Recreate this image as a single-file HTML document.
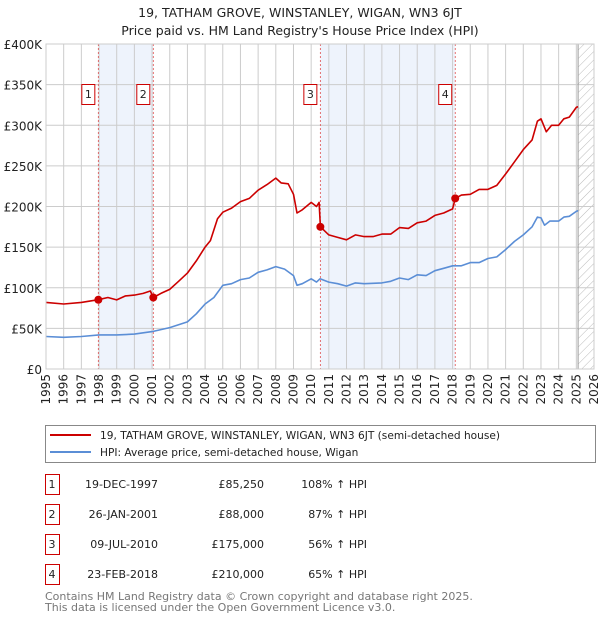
<!DOCTYPE html>
<html><head><meta charset="utf-8"><style>
body{margin:0;background:#fff;font-family:"Liberation Sans","DejaVu Sans",sans-serif;}
svg text{font-family:"DejaVu Sans","Liberation Sans",sans-serif;}
</style></head><body>
<svg id="chart" width="600" height="620" xmlns="http://www.w3.org/2000/svg">
<text x="300" y="17" font-size="12.5" text-anchor="middle" fill="#222">19, TATHAM GROVE, WINSTANLEY, WIGAN, WN3 6JT</text>
<text x="300" y="35" font-size="12.5" text-anchor="middle" fill="#222">Price paid vs. HM Land Registry's House Price Index (HPI)</text>
<g id="plot"></g>
<rect x="45.5" y="425.5" width="550" height="37" fill="#fff" stroke="#888"/>
<line x1="50" y1="435" x2="91" y2="435" stroke="#cc0000" stroke-width="2"/>
<text x="100" y="439" font-size="10.6" fill="#222">19, TATHAM GROVE, WINSTANLEY, WIGAN, WN3 6JT (semi-detached house)</text>
<line x1="50" y1="452" x2="91" y2="452" stroke="#5b8ed6" stroke-width="2"/>
<text x="100" y="456" font-size="10.6" fill="#222">HPI: Average price, semi-detached house, Wigan</text>
<g id="table"></g>
<text x="45" y="600" font-size="11" fill="#777">Contains HM Land Registry data © Crown copyright and database right 2025.</text>
<text x="45" y="611" font-size="11" fill="#777">This data is licensed under the Open Government Licence v3.0.</text>
</svg>
<script>
const redYears=[1995,1996,1997,1997.96,1998.5,1999,1999.5,2000,2000.5,2000.9,2001.07,2001.5,2002,2002.5,2003,2003.5,2004,2004.3,2004.7,2005,2005.5,2006,2006.5,2007,2007.5,2008,2008.3,2008.7,2009,2009.2,2009.5,2010,2010.3,2010.45,2010.52,2011,2011.5,2012,2012.5,2013,2013.5,2014,2014.5,2015,2015.5,2016,2016.5,2017,2017.5,2018,2018.15,2018.5,2019,2019.5,2020,2020.5,2021,2021.5,2022,2022.5,2022.8,2023,2023.3,2023.6,2024,2024.3,2024.6,2025,2025.1];
const redValues=[82,80,82,85.25,88,85,90,91,93,96,88,93,98,108,118,133,150,158,185,193,198,206,210,220,227,235,229,228,215,192,196,205,200,205,175,165,162,159,165,163,163,166,166,174,173,180,182,189,192,197,210,214,215,221,221,226,240,255,270,282,305,308,292,300,300,308,310,322,323];
const hpiYears=[1995,1996,1997,1998,1999,2000,2001,2002,2003,2003.5,2004,2004.5,2005,2005.5,2006,2006.5,2007,2007.5,2008,2008.5,2009,2009.2,2009.5,2010,2010.3,2010.5,2011,2011.5,2012,2012.5,2013,2014,2014.5,2015,2015.5,2016,2016.5,2017,2017.5,2018,2018.5,2019,2019.5,2020,2020.5,2021,2021.5,2022,2022.5,2022.8,2023,2023.2,2023.5,2024,2024.3,2024.6,2025,2025.1];
const hpiValues=[40,39,40,42,42,43,46,51,58,68,80,88,103,105,110,112,119,122,126,123,115,103,105,111,107,111,107,105,102,106,105,106,108,112,110,116,115,121,124,127,127,131,131,136,138,147,157,165,175,187,186,177,182,182,187,188,194,195];
const saleLabels=["1","2","3","4"];
const saleYears=[1997.96,2001.07,2010.52,2018.15];
const saleValues=[85.25,88,175,210];
const saleDates=["19-DEC-1997","26-JAN-2001","09-JUL-2010","23-FEB-2018"];
const salePrices=["£85,250","£88,000","£175,000","£210,000"];
const saleHpi=["108% ↑ HPI","87% ↑ HPI","56% ↑ HPI","65% ↑ HPI"];
const yTicks=[0,50,100,150,200,250,300,350,400];
const yTickLabels=["£0","£50K","£100K","£150K","£200K","£250K","£300K","£350K","£400K"];
const xTicks=[1995,1996,1997,1998,1999,2000,2001,2002,2003,2004,2005,2006,2007,2008,2009,2010,2011,2012,2013,2014,2015,2016,2017,2018,2019,2020,2021,2022,2023,2024,2025,2026];

const X0=46,X1=594,Y0=369,Y1=44;
const xs=y=>X0+(y-1995)/(2026-1995)*(X1-X0);
const ys=v=>Y0-v/400*(Y0-Y1);
const NS="http://www.w3.org/2000/svg";
const plot=document.getElementById('plot');
function mk(tag,attrs,parent){const e=document.createElementNS(NS,tag);for(const k in attrs)e.setAttribute(k,attrs[k]);(parent||plot).appendChild(e);return e;}

for(let i=0;i<saleYears.length;i+=2){
  const r=mk('rect',{x:xs(saleYears[i]),y:Y1,width:xs(saleYears[i+1])-xs(saleYears[i]),height:Y0-Y1,fill:'#eef3fc'});
  
  
}
const defs=mk('defs',{});
const pat=mk('pattern',{id:'hatch',width:6,height:6,patternUnits:'userSpaceOnUse',patternTransform:'rotate(45)'},defs);
mk('line',{x1:0,y1:0,x2:0,y2:6,stroke:'#bbb','stroke-width':1},pat);
const hx=xs(2025.1);
const hr=mk('rect',{x:hx,y:Y1,width:X1-hx,height:Y0-Y1,fill:'url(#hatch)'});


yTicks.forEach((t,i)=>{
  const l=mk('line',{x1:X0,x2:X1,y1:ys(t),y2:ys(t),stroke:'#ccc','stroke-width':1});
  
  
  const tx=mk('text',{x:X0-4,y:ys(t)+5,'font-size':12,'text-anchor':'end',fill:'#222'});
  tx.textContent=yTickLabels[i];
  
  
});
xTicks.forEach(t=>{
  const l=mk('line',{x1:xs(t),x2:xs(t),y1:Y1,y2:Y0,stroke:'#ccc','stroke-width':1});
  
  
  const tx=mk('text',{x:0,y:0,'font-size':12,'text-anchor':'end',fill:'#222',transform:`translate(${xs(t)+4},${Y0+5}) rotate(-90)`});
  tx.textContent=t;
  
  
});
const vl=mk('line',{x1:hx,x2:hx,y1:Y1,y2:Y0,stroke:'#999','stroke-width':1});


saleYears.forEach(y=>{
  const l=mk('line',{x1:xs(y),x2:xs(y),y1:Y1,y2:Y0,stroke:'#e05050','stroke-width':0.8,'stroke-dasharray':'2,2'});
  
  
});
function line(xa,va,col,name){
  const d=xa.map((x,i)=>(i?'L':'M')+xs(x).toFixed(1)+','+ys(va[i]).toFixed(1)).join('');
  const p=mk('path',{d:d,fill:'none',stroke:col,'stroke-width':1.6,'stroke-linejoin':'round'});
  
  
}
line(hpiYears,hpiValues,'#5b8ed6','hpi-line');
line(redYears,redValues,'#cc0000','property-price-line');
saleYears.forEach((y,i)=>{
  const c=mk('circle',{cx:xs(y),cy:ys(saleValues[i]),r:4,fill:'#cc0000'});
  
  
  const b=mk('rect',{x:xs(y)-16.5,y:84.5,width:13,height:20,fill:'#fff',stroke:'#cc0000'});
  
  
  const t=mk('text',{x:xs(y)-10,y:98,'font-size':11,'text-anchor':'middle',fill:'#222'});
  t.textContent=saleLabels[i];
  
  
});
mk('rect',{x:X0,y:Y1,width:X1-X0,height:Y0-Y1,fill:'none',stroke:'#ccc'});
const tbl=document.getElementById('table');
saleYears.forEach((y,i)=>{
  const ty=483+i*30;
  const b=mk('rect',{x:45.5,y:ty-8.5,width:14,height:20,fill:'#fff',stroke:'#cc0000'},tbl);
  
  
  const cells=[[52,saleLabels[i],'middle'],[158,saleDates[i],'end'],[264,salePrices[i],'end'],[367,saleHpi[i],'end']];
  cells.forEach(c=>{
    const t=mk('text',{x:c[0],y:ty+5,'font-size':11,'text-anchor':c[2],fill:'#222'},tbl);
    t.textContent=c[1];
    
    
  });
});
</script>
</body></html>
